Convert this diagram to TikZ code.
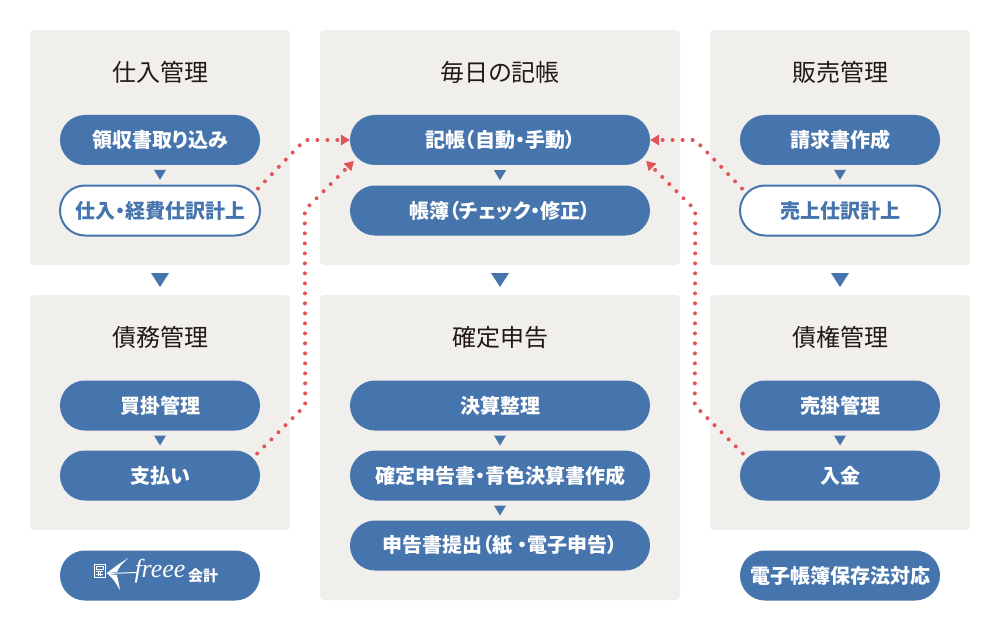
\documentclass[tikz,border=0pt]{standalone}
\usepackage{fontspec}
\setmainfont{Noto Sans CJK JP}[RawFeature=+palt]
\newfontfamily\freeefont{Liberation Serif}
\usetikzlibrary{calc,arrows.meta}
\definecolor{panelgray}{HTML}{F0EFEC}
\definecolor{pillblue}{HTML}{4674AC}
\definecolor{linkred}{HTML}{E0555A}
\definecolor{titleblack}{HTML}{231815}
\tikzset{
 panel/.style={fill=panelgray,rounded corners=4pt,inner sep=0pt},
 title/.style={text=titleblack,font=\fontsize{24}{24}\selectfont},
 pill/.style={fill=pillblue,rounded corners=25pt,minimum width=200,minimum height=50,inner sep=0pt,text=white,font=\fontsize{20}{20}\selectfont\bfseries},
 widepill/.style={pill,minimum width=300},
 hollow/.style={pill,fill=white,draw=pillblue,line width=2pt,text=pillblue},
 link/.style={draw=linkred,line width=4pt,line cap=round,dash pattern=on 0pt off 10pt,-{Triangle[length=9pt,width=11pt,line width=0pt]}},
 tri/.style={fill=pillblue},
}
\begin{document}
\begin{tikzpicture}[x=1pt,y=-1pt]
 \useasboundingbox (0,0) rectangle (1000,631);
 % panels
 \node[panel,minimum width=260,minimum height=235] (buy) at (160,147.5) {};
 \node[panel,minimum width=260,minimum height=235] (debt) at (160,412.5) {};
 \node[panel,minimum width=360,minimum height=235] (daily) at (500,147.5) {};
 \node[panel,minimum width=360,minimum height=305] (tax) at (500,447.5) {};
 \node[panel,minimum width=260,minimum height=235] (sell) at (840,147.5) {};
 \node[panel,minimum width=260,minimum height=235] (credit) at (840,412.5) {};
 % titles
 \node[title] (buyT) at (160,72) {仕入管理};
 \node[title] (debtT) at (160,337) {債務管理};
 \node[title] (dailyT) at (500,72) {毎日の記帳};
 \node[title] (taxT) at (500,337) {確定申告};
 \node[title] (sellT) at (840,72) {販売管理};
 \node[title] (creditT) at (840,337) {債権管理};
 % left column
 \node[pill] (rec) at (160,140) {領収書取り込み};
 \node[hollow] (pur) at (160,210.5) {仕入・経費仕訳計上};
 \node[pill] (ap) at (160,405.5) {買掛管理};
 \node[pill] (pay) at (160,475.5) {支払い};
 \node[pill] (fr) at (160,575.5) {};
 % middle column
 \node[widepill] (kicho) at (500,140) {記帳（自動・手動）};
 \node[widepill] (book) at (500,210.5) {帳簿（チェック・修正）};
 \node[widepill] (settle) at (500,405.5) {決算整理};
 \node[widepill] (ret) at (500,475.5) {確定申告書・青色決算書作成};
 \node[widepill] (file) at (500,545.5) {申告書提出（紙 ・電子申告）};
 % right column
 \node[pill] (inv) at (840,140) {請求書作成};
 \node[hollow] (sale) at (840,210.5) {売上仕訳計上};
 \node[pill] (ar) at (840,405.5) {売掛管理};
 \node[pill] (dep) at (840,475.5) {入金};
 \node[pill] (ebook) at (840,575.5) {電子帳簿保存法対応};
 % freee logo
 \draw[white,line width=0.9pt] (94,564) rectangle (105,577);
 \draw[white,line width=0.7pt] (96,566.5) rectangle (103,569);
 \draw[white,line width=0.7pt] (96,571.5)--(103,571.5) (96,574.5)--(103,574.5) (98.5,570.5)--(98.5,576) (100.8,570.5)--(100.8,576);
 \fill[white] (107,573) .. controls (116,566) .. (128,558) .. controls (120,566) .. (117,572) -- cycle;
 \fill[white] (108,574) .. controls (114,580) .. (120,590) .. controls (118,582) .. (117,575) -- cycle;
 \draw[white,line width=1pt] (107,573.5) -- (137,572.5);
 \node[text=white,font=\freeefont\itshape\fontsize{26}{26}\selectfont] (frtext) at (160,571) {freee};
 \node[text=white,font=\fontsize{15}{15}\selectfont\bfseries] (frkaikei) at (203,575.5) {会計};
 % small triangles
 \fill[tri] ($(rec.south)!0.5!(pur.north)$) +(-6,-5) -- +(6,-5) -- +(0,5) -- cycle;
 \fill[tri] ($(ap.south)!0.5!(pay.north)$) +(-6,-5) -- +(6,-5) -- +(0,5) -- cycle;
 \fill[tri] ($(kicho.south)!0.5!(book.north)$) +(-6,-5) -- +(6,-5) -- +(0,5) -- cycle;
 \fill[tri] ($(settle.south)!0.5!(ret.north)$) +(-6,-5) -- +(6,-5) -- +(0,5) -- cycle;
 \fill[tri] ($(ret.south)!0.5!(file.north)$) +(-6,-5) -- +(6,-5) -- +(0,5) -- cycle;
 \fill[tri] ($(inv.south)!0.5!(sale.north)$) +(-6,-5) -- +(6,-5) -- +(0,5) -- cycle;
 \fill[tri] ($(ar.south)!0.5!(dep.north)$) +(-6,-5) -- +(6,-5) -- +(0,5) -- cycle;
 % big triangles
 \fill[tri] ($(buy.south)!0.5!(debt.north)$) +(-9,-7) -- +(9,-7) -- +(0,7) -- cycle;
 \fill[tri] ($(daily.south)!0.5!(tax.north)$) +(-9,-7) -- +(9,-7) -- +(0,7) -- cycle;
 \fill[tri] ($(sell.south)!0.5!(credit.north)$) +(-9,-7) -- +(9,-7) -- +(0,7) -- cycle;
 % dotted links
 \draw[link] ($(pur.east)+(-3,-22)$) -- ($(kicho.west)+(-45,0)$) -- (kicho.west);
 \draw[link] ($(pay.east)+(-3,-22)$) -- ++(48,-48) -- ($(kicho.west)+(-45,70)$) -- ($(kicho.west)+(4,21)$);
 \draw[link] ($(sale.west)+(3,-22)$) -- ($(kicho.east)+(45,0)$) -- (kicho.east);
 \draw[link] ($(dep.west)+(3,-22)$) -- ++(-48,-48) -- ($(kicho.east)+(45,70)$) -- ($(kicho.east)+(-4,21)$);
\end{tikzpicture}
\end{document}
